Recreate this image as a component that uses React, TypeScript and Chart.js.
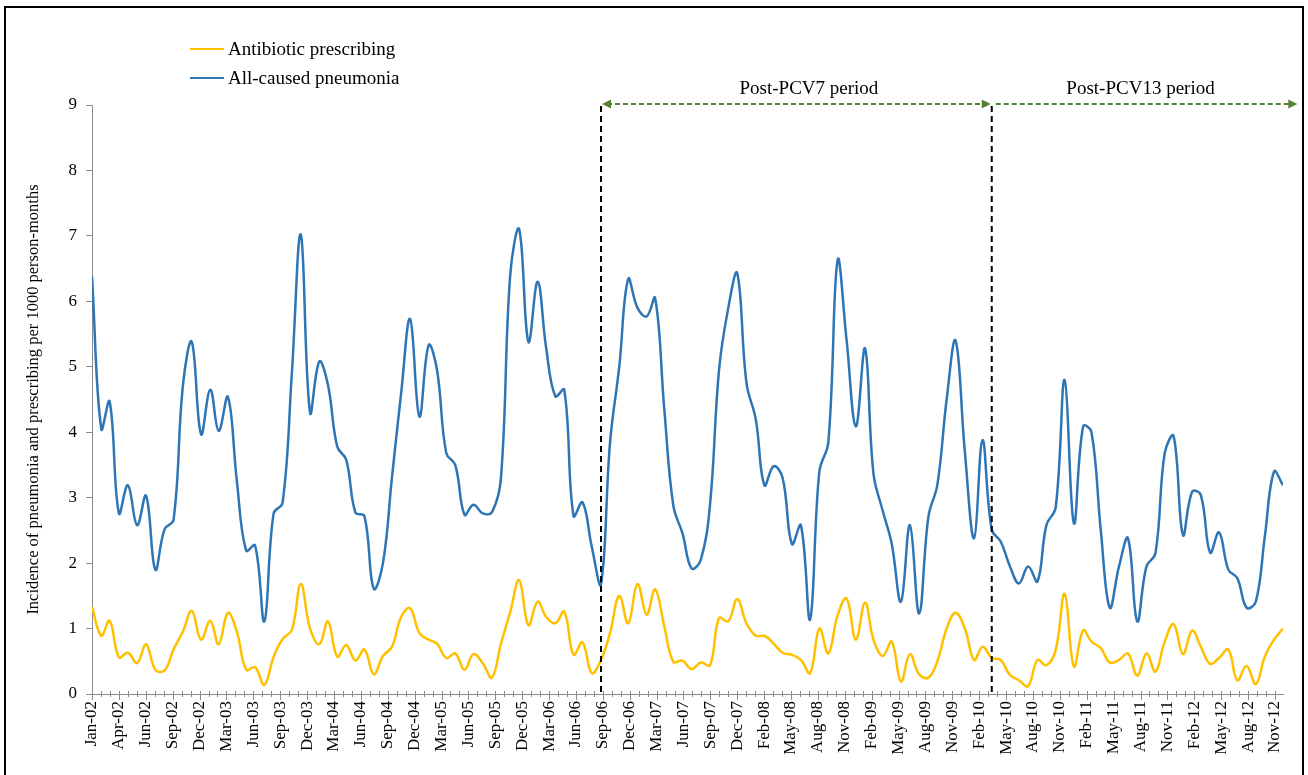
import React, { useEffect, useRef } from "react";
import { Chart, registerables } from "chart.js";

Chart.register(...registerables);

// Monthly observations, Jan 2002 .. Dec 2012
const years = [2002, 2003, 2004, 2005, 2006, 2007, 2008, 2009, 2010, 2011, 2012];
const monthNumbers = [1, 2, 3, 4, 5, 6, 7, 8, 9, 10, 11, 12];

const pneumonia = [
  6.38, 4.05, 4.47, 2.76, 3.19, 2.58, 3.03, 1.90, 2.52, 2.66, 4.70, 5.38,
  3.97, 4.65, 4.02, 4.54, 3.25, 2.19, 2.27, 1.11, 2.76, 2.92, 4.90, 7.02,
  4.30, 5.08, 4.72, 3.78, 3.58, 2.77, 2.72, 1.61, 2.00, 3.30, 4.60, 5.73,
  4.24, 5.33, 4.95, 3.68, 3.50, 2.74, 2.89, 2.76, 2.78, 3.30, 6.40, 7.10,
  5.38, 6.30, 5.30, 4.55, 4.65, 2.72, 2.93, 2.25, 1.68, 3.83, 5.00, 6.34,
  5.90, 5.77, 6.05, 4.34, 2.88, 2.45, 1.92, 2.05, 2.90, 4.95, 5.90, 6.43,
  4.75, 4.20, 3.19, 3.48, 3.30, 2.29, 2.58, 1.14, 3.40, 3.85, 6.63, 5.41,
  4.09, 5.28, 3.37, 2.80, 2.30, 1.41, 2.58, 1.23, 2.71, 3.20, 4.50, 5.40,
  3.70, 2.38, 3.88, 2.51, 2.33, 1.95, 1.69, 1.95, 1.72, 2.58, 2.85, 4.80,
  2.61, 4.09, 4.00, 2.50, 1.32, 1.95, 2.38, 1.11, 1.95, 2.15, 3.68, 3.94,
  2.43, 3.09, 3.04, 2.16, 2.47, 1.90, 1.77, 1.32, 1.41, 2.40, 3.40, 3.19,
];

const antibiotic = [
  1.33, 0.89, 1.12, 0.56, 0.63, 0.47, 0.76, 0.37, 0.36, 0.68, 0.95, 1.27,
  0.83, 1.12, 0.76, 1.24, 0.95, 0.37, 0.41, 0.14, 0.57, 0.84, 0.98, 1.68,
  1.00, 0.76, 1.11, 0.57, 0.75, 0.51, 0.68, 0.30, 0.58, 0.72, 1.18, 1.31,
  0.93, 0.83, 0.77, 0.55, 0.62, 0.37, 0.61, 0.47, 0.25, 0.77, 1.25, 1.74,
  1.05, 1.41, 1.18, 1.08, 1.26, 0.60, 0.79, 0.32, 0.52, 0.93, 1.50, 1.08,
  1.68, 1.21, 1.60, 1.03, 0.49, 0.51, 0.38, 0.48, 0.44, 1.16, 1.11, 1.45,
  1.08, 0.89, 0.89, 0.77, 0.63, 0.60, 0.52, 0.32, 1.00, 0.62, 1.20, 1.46,
  0.83, 1.40, 0.83, 0.58, 0.80, 0.19, 0.61, 0.30, 0.25, 0.50, 1.00, 1.24,
  1.00, 0.52, 0.72, 0.55, 0.52, 0.29, 0.21, 0.12, 0.52, 0.44, 0.67, 1.53,
  0.42, 0.97, 0.80, 0.70, 0.48, 0.52, 0.62, 0.28, 0.62, 0.34, 0.80, 1.07,
  0.61, 0.97, 0.72, 0.46, 0.55, 0.68, 0.21, 0.43, 0.15, 0.57, 0.83, 1.00,
];

// Axis labels every 90 days from 1 Jan 2002
const tickLabels = [
  "Jan-02", "Apr-02", "Jun-02", "Sep-02", "Dec-02", "Mar-03", "Jun-03", "Sep-03", "Dec-03",
  "Mar-04", "Jun-04", "Sep-04", "Dec-04", "Mar-05", "Jun-05", "Sep-05", "Dec-05", "Mar-06",
  "Jun-06", "Sep-06", "Dec-06", "Mar-07", "Jun-07", "Sep-07", "Dec-07", "Feb-08", "May-08",
  "Aug-08", "Nov-08", "Feb-09", "May-09", "Aug-09", "Nov-09", "Feb-10", "May-10", "Aug-10",
  "Nov-10", "Feb-11", "May-11", "Aug-11", "Nov-11", "Feb-12", "May-12", "Aug-12", "Nov-12",
];
const MAJOR_DAYS = 90;
const MINOR_DAYS = 30;

const periodLabels = ["Post-PCV7 period", "Post-PCV13 period"];
const pcv7Start = [2006, 9];
const pcv13Start = [2010, 4];
const periodEndDay = 4035; // arrow reaches a little past the last month
const periodLabelDays = [2400, 3510];

const yTitle = "Incidence of pneumonia and prescribing per 1000 person-months";
const seriesNames = ["Antibiotic prescribing", "All-caused pneumonia"];
const ORANGE = "#FFC000";
const BLUE = "#2E75B6";
const GREEN = "#548235";
const FONT = '"Liberation Serif", "Times New Roman", serif';

const DAY0 = Date.UTC(2002, 0, 1);
const dayOf = (y: number, m: number) => (Date.UTC(y, m - 1, 1) - DAY0) / 86400000;

const monthDays: number[] = [];
years.forEach((y) => monthNumbers.forEach((m) => monthDays.push(dayOf(y, m))));
const xMax = monthDays[monthDays.length - 1];

const tickValues = tickLabels.map((_, i) => i * MAJOR_DAYS);

const annotationPlugin = {
  id: "periodAnnotations",
  afterDraw(chart: any) {
    const { ctx, scales } = chart;
    const xs = scales.x;
    const ys = scales.y;
    const axisY = ys.getPixelForValue(0);

    // minor + major ticks on the category axis
    ctx.save();
    ctx.strokeStyle = "#8C8C8C";
    ctx.lineWidth = 1;
    for (let d = 0; d <= xMax; d += MINOR_DAYS) {
      const px = Math.round(xs.getPixelForValue(d)) + 0.5;
      const major = d % MAJOR_DAYS === 0;
      ctx.beginPath();
      ctx.moveTo(px, axisY - 3);
      ctx.lineTo(px, axisY + (major ? 6 : 3));
      ctx.stroke();
    }
    ctx.restore();

    const x1 = xs.getPixelForValue(dayOf(pcv7Start[0], pcv7Start[1]));
    const x2 = xs.getPixelForValue(dayOf(pcv13Start[0], pcv13Start[1]));
    const x3 = xs.getPixelForValue(periodEndDay);
    const yTop = ys.getPixelForValue(9);
    const arrowY = yTop - 1;

    ctx.save();
    ctx.strokeStyle = "#000";
    ctx.lineWidth = 2;
    ctx.setLineDash([6, 4]);
    [x1, x2].forEach((xx) => {
      ctx.beginPath();
      ctx.moveTo(xx, arrowY + 2);
      ctx.lineTo(xx, axisY);
      ctx.stroke();
    });

    ctx.strokeStyle = GREEN;
    ctx.fillStyle = GREEN;
    ctx.lineWidth = 2;
    ctx.setLineDash([5, 3]);
    const seg = (a: number, b: number) => {
      ctx.beginPath();
      ctx.moveTo(a, arrowY);
      ctx.lineTo(b, arrowY);
      ctx.stroke();
    };
    const head = (tip: number, dir: number) => {
      ctx.beginPath();
      ctx.moveTo(tip, arrowY);
      ctx.lineTo(tip - dir * 9, arrowY - 4.5);
      ctx.lineTo(tip - dir * 9, arrowY + 4.5);
      ctx.closePath();
      ctx.fill();
    };
    seg(x1 + 6, x2 - 6);
    head(x1 + 1, -1);
    head(x2 - 1, 1);
    seg(x2 + 4, x3 - 6);
    head(x3, 1);

    ctx.setLineDash([]);
    ctx.fillStyle = "#000";
    ctx.font = `19px ${FONT}`;
    ctx.textAlign = "center";
    ctx.textBaseline = "alphabetic";
    periodLabels.forEach((t, i) => {
      ctx.fillText(t, xs.getPixelForValue(periodLabelDays[i]), yTop - 11);
    });
    ctx.restore();
  },
};

export default function App() {
  const canvasRef = useRef<HTMLCanvasElement | null>(null);

  useEffect(() => {
    if (!canvasRef.current) return;
    const chart = new Chart(canvasRef.current, {
      type: "line",
      data: {
        datasets: [
          {
            label: seriesNames[1],
            data: pneumonia.map((v, i) => ({ x: monthDays[i], y: v })),
            borderColor: BLUE,
            backgroundColor: BLUE,
            borderWidth: 2.5,
            pointRadius: 0,
            tension: 0.4,
            fill: false,
          },
          {
            label: seriesNames[0],
            data: antibiotic.map((v, i) => ({ x: monthDays[i], y: v })),
            borderColor: ORANGE,
            backgroundColor: ORANGE,
            borderWidth: 2.5,
            pointRadius: 0,
            tension: 0.4,
            fill: false,
          },
        ],
      },
      options: {
        responsive: false,
        animation: false,
        layout: { padding: { top: 105, right: 25, left: 0, bottom: 0 } },
        plugins: {
          legend: { display: false },
          tooltip: { enabled: false },
        },
        scales: {
          x: {
            type: "linear",
            min: 0,
            max: xMax,
            afterBuildTicks: (scale: any) => {
              scale.ticks = tickValues.map((v) => ({ value: v }));
            },
            afterFit: (scale: any) => {
              scale.height = 81;
            },
            ticks: {
              autoSkip: false,
              minRotation: 90,
              maxRotation: 90,
              padding: 7,
              color: "#000",
              font: { family: FONT, size: 17 },
              callback: (_v: any, i: number) => tickLabels[i],
            },
            grid: { display: true, drawOnChartArea: false, drawTicks: false },
            border: { display: true, color: "#8C8C8C", width: 1 },
          },
          y: {
            min: 0,
            max: 9,
            afterFit: (scale: any) => {
              scale.width = 92;
            },
            ticks: {
              stepSize: 1,
              padding: 9,
              color: "#000",
              font: { family: FONT, size: 17 },
            },
            grid: {
              drawOnChartArea: false,
              drawTicks: true,
              tickLength: 6,
              color: "#8C8C8C",
            },
            border: { display: true, color: "#8C8C8C", width: 1 },
            title: {
              display: true,
              text: yTitle,
              color: "#000",
              font: { family: FONT, size: 16.5 },
              padding: { top: 24, bottom: 0 },
            },
          },
        },
      },
      plugins: [annotationPlugin],
    });
    return () => chart.destroy();
  }, []);

  const legendRow = (label: string, color: string) => (
    <div style={{ display: "flex", alignItems: "center", height: 28.5 }}>
      <span
        style={{
          display: "inline-block",
          width: 34,
          height: 2,
          background: color,
          marginRight: 4,
        }}
      />
      <span>{label}</span>
    </div>
  );

  return (
    <div
      style={{
        position: "fixed",
        left: 0,
        top: 0,
        width: 1308,
        height: 775,
        overflow: "hidden",
        background: "#fff",
      }}
    >
      <canvas
        ref={canvasRef}
        width={1308}
        height={775}
        style={{ position: "absolute", left: 0, top: 0, width: 1308, height: 775 }}
      />
      <div
        style={{
          position: "absolute",
          left: 4,
          top: 6,
          width: 1296,
          height: 820,
          border: "2px solid #000",
          pointerEvents: "none",
        }}
      />
      <div
        style={{
          position: "absolute",
          left: 190,
          top: 35,
          fontFamily: FONT,
          fontSize: 19,
          color: "#000",
          lineHeight: "28.5px",
        }}
      >
        {legendRow(seriesNames[0], ORANGE)}
        {legendRow(seriesNames[1], BLUE)}
      </div>
    </div>
  );
}
